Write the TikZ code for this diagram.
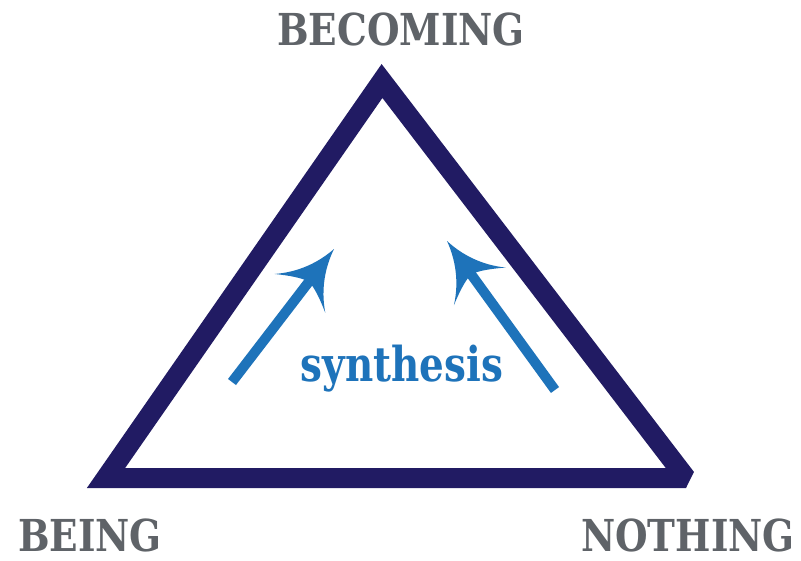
\documentclass[tikz,border=0pt]{standalone}
\usepackage{fontspec}
\setmainfont{DejaVu Serif}
\usetikzlibrary{arrows.meta}

\definecolor{navy}{RGB}{33,27,99}
\definecolor{labelgray}{RGB}{95,99,104}
\definecolor{synblue}{RGB}{30,115,186}

% swept arrow head with concave sides
\pgfdeclarearrow{
  name = Swept,
  setup code = {
    \pgfarrowssettipend{0pt}
    \pgfarrowssetbackend{-55pt}
    \pgfarrowssetlineend{-40pt}
    \pgfarrowsupperhullpoint{0pt}{0pt}
    \pgfarrowsupperhullpoint{-56pt}{32pt}
  },
  drawing code = {
    \pgfpathmoveto{\pgfpointorigin}
    \pgfpathcurveto{\pgfpoint{-20pt}{4pt}}{\pgfpoint{-40pt}{14pt}}{\pgfpoint{-56pt}{32pt}}
    \pgfpathcurveto{\pgfpoint{-48pt}{19pt}}{\pgfpoint{-43pt}{9pt}}{\pgfpoint{-41pt}{0pt}}
    \pgfpathcurveto{\pgfpoint{-43pt}{-9pt}}{\pgfpoint{-48pt}{-19pt}}{\pgfpoint{-56pt}{-32pt}}
    \pgfpathcurveto{\pgfpoint{-40pt}{-14pt}}{\pgfpoint{-20pt}{-4pt}}{\pgfpointorigin}
    \pgfpathclose
    \pgfusepathqfill
  }
}

\tikzset{
  corner/.style={font=\bfseries\fontsize{44}{44}\selectfont, text=labelgray, inner sep=0pt},
  frame/.style={draw=navy, line width=20pt, line join=miter, miter limit=2.22},
  rise/.style={draw=synblue, line width=10pt, -{Swept}},
}

\begin{document}
\begin{tikzpicture}[x=1pt, y=-1pt]
  \useasboundingbox (0,0) rectangle (801,560);
  \fill[white] (0,0) rectangle (801,560);

  % the triangle
  \coordinate (apex)  at (382,81);
  \coordinate (left)  at (106,478);
  \coordinate (right) at (686,478);
  \draw[frame] (apex) -- (right) -- (left) -- cycle;

  % corner labels
  \node[corner] (becoming) at (401,29)  {\scalebox{0.85}[1]{BECOMING}};
  \node[corner] (being)    at (90,535)  {\scalebox{0.85}[1]{BEING}};
  \node[corner] (nothing)  at (688,535) {\scalebox{0.85}[1]{NOTHING}};

  % synthesis arrows
  \coordinate (ltail) at (232,382);
  \coordinate (ltip)  at (334,249);
  \coordinate (rtail) at (555,390);
  \coordinate (rtip)  at (447,241);
  \draw[rise] (ltail) -- (ltip);
  \draw[rise] (rtail) -- (rtip);

  \node[font=\bfseries\fontsize{48}{48}\selectfont, text=synblue, inner sep=0pt]
    (synth) at (402,369) {\scalebox{0.81}[1]{synthesis}};
\end{tikzpicture}
\end{document}
